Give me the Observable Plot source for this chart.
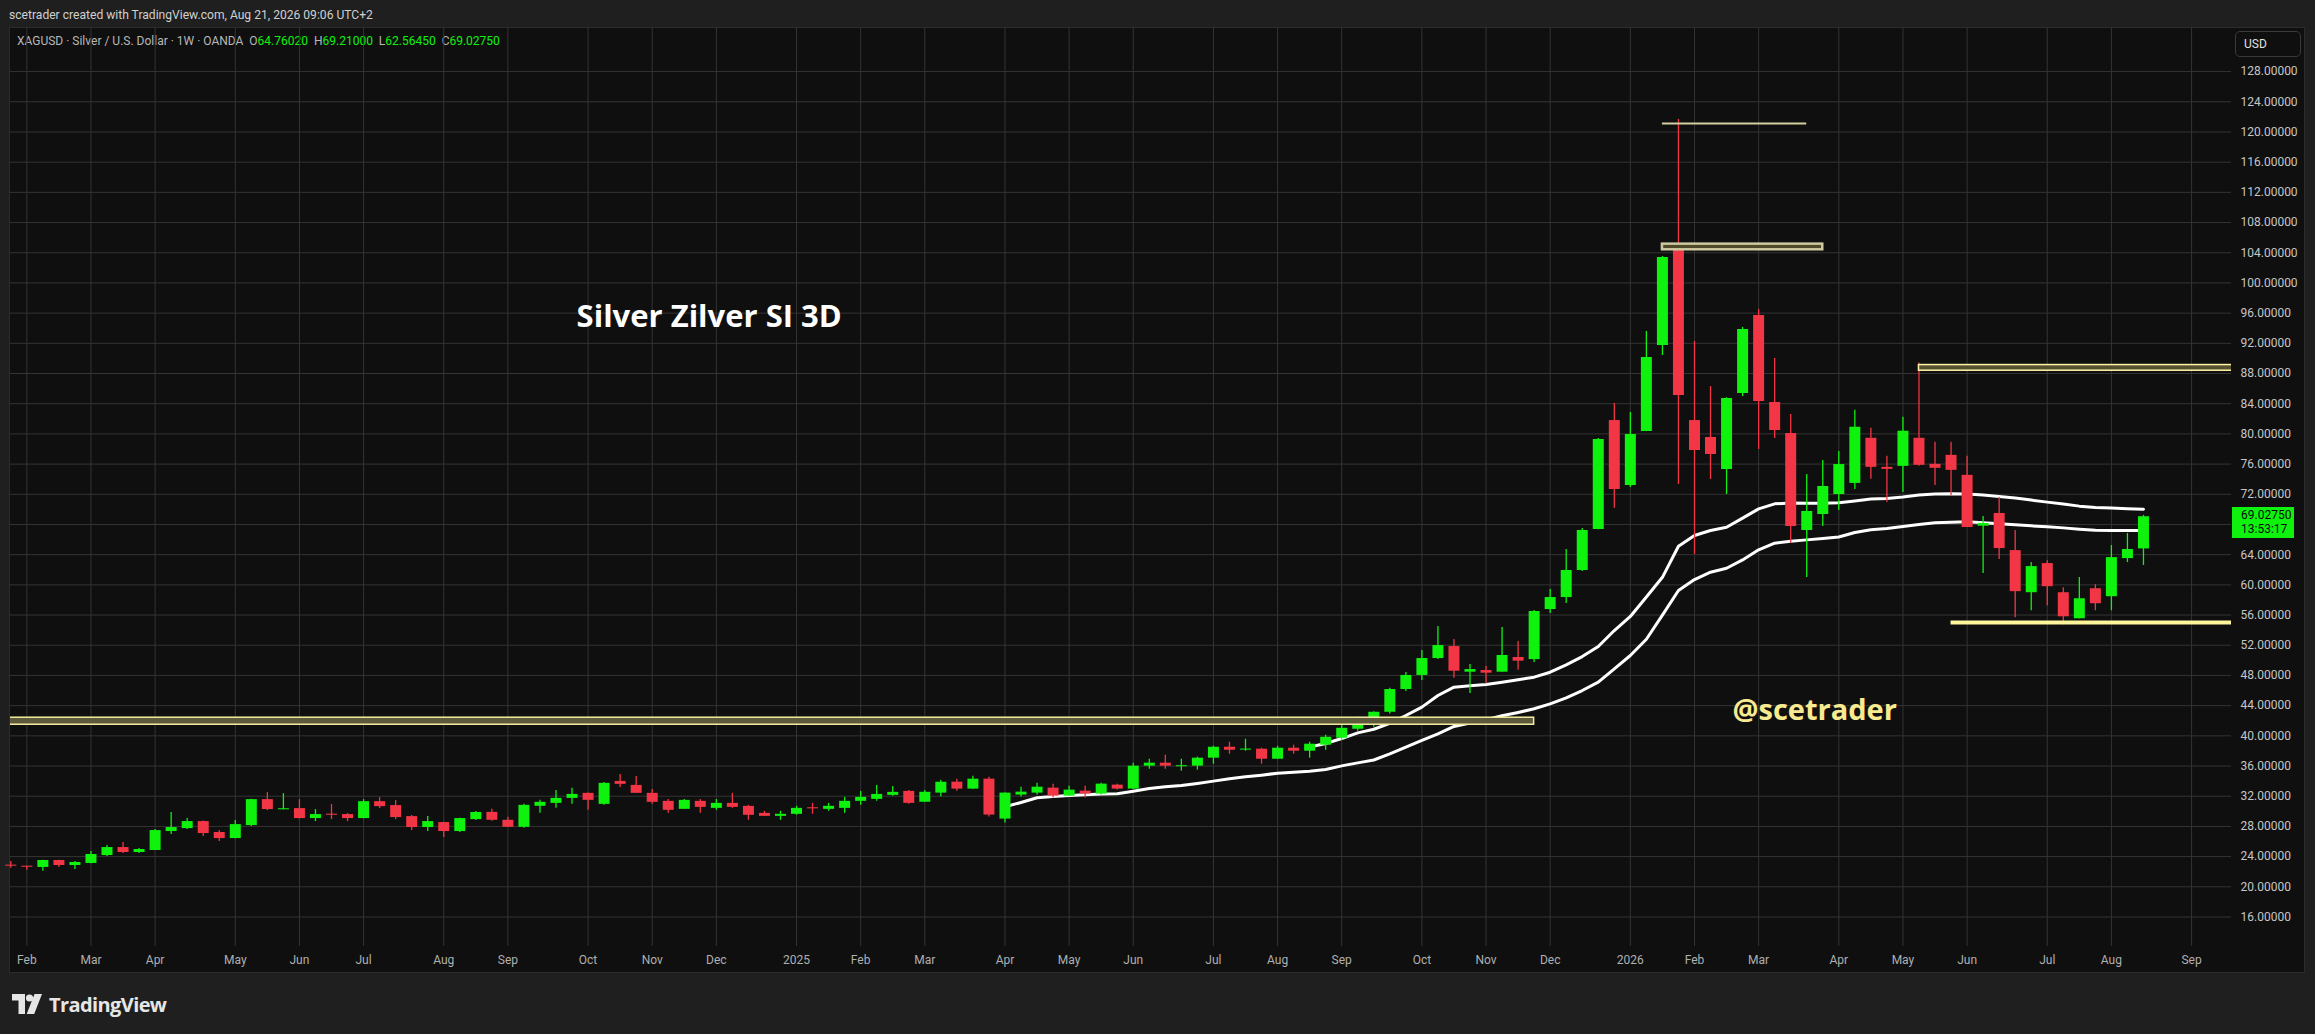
<!DOCTYPE html>
<html>
<head>
<meta charset="utf-8">
<script src="https://cdn.jsdelivr.net/npm/d3@7"></script>
<script src="https://cdn.jsdelivr.net/npm/@observablehq/plot@0.6"></script>
<style>
html,body{margin:0;padding:0;background:#1f1f1f;}
#root{position:relative;width:2315px;height:1034px;overflow:hidden;background:#1f1f1f;font-family:Roboto,"Noto Sans",sans-serif;}
#pane{position:absolute;left:9px;top:27px;width:2296px;height:946px;background:#0f0f0f;border:1px solid #2c2c2c;box-sizing:border-box;}
#chart{position:absolute;left:0;top:0;}
#hdr{position:absolute;left:9px;top:7px;font-size:12.1px;line-height:16px;color:#d0d0d0;white-space:nowrap;}
#legend{position:absolute;left:17px;top:33px;font-size:12px;line-height:17px;color:#b8b8b8;white-space:nowrap;}
#legend .v{color:#0ef20e;}
#usd{position:absolute;left:2235px;top:31px;width:66px;height:26px;box-sizing:border-box;border:1px solid #3a3a3a;border-radius:5px;color:#e0e0e0;font-size:12px;line-height:24px;padding-left:8px;}
#last{position:absolute;left:2232px;width:62px;height:31px;background:#0ef20e;color:#0a0a0a;font-size:12px;line-height:14.5px;padding-left:9px;box-sizing:border-box;padding-top:1px;}
#footer{position:absolute;left:12px;top:991px;height:26px;display:flex;align-items:center;color:#e6e6e6;}
#footer span{font-family:"Open Sans",Roboto,sans-serif;font-weight:700;font-size:20px;letter-spacing:-0.6px;margin-left:7px;}
</style>
</head>
<body>
<div id="root">
  <div id="pane"></div>
  <div id="hdr">scetrader created with TradingView.com, Aug 21, 2026 09:06 UTC+2</div>
  <div id="legend">XAGUSD · Silver / U.S. Dollar · 1W · OANDA&nbsp;&nbsp;O<span class="v">64.76020</span>&nbsp;&nbsp;H<span class="v">69.21000</span>&nbsp;&nbsp;L<span class="v">62.56450</span>&nbsp;&nbsp;C<span class="v">69.02750</span></div>
  <div id="chart"></div>
  <div id="usd">USD</div>
  <div id="last"><div>69.02750</div><div>13:53:17</div></div>
  <div id="footer">
    <svg width="30" height="22" viewBox="0 0 30 22">
      <path d="M0 1h13v20h-6.5v-13.5h-6.5z" fill="#e6e6e6"/>
      <circle cx="17.5" cy="5" r="3.6" fill="#e6e6e6"/>
      <path d="M22.5 1h7.5l-7.8 20h-7.5z" fill="#e6e6e6"/>
    </svg>
    <span>TradingView</span>
  </div>
</div>
<script>
// ---------- DATA (weekly candles, XAGUSD, OANDA) ----------
const weekStart = "2024-01-29";
const opens = [
  22.85,22.70,22.56,23.48,22.82,23.09,24.14,25.20,24.54,24.81,
  27.32,27.71,28.64,27.19,26.39,28.11,31.55,30.23,30.36,29.04,
  29.60,29.57,29.04,31.28,30.76,29.30,27.85,28.51,27.32,28.90,
  29.86,28.81,27.88,30.66,31.05,31.71,32.38,30.92,33.96,33.43,
  32.38,31.32,30.26,31.32,30.39,31.05,30.66,29.73,29.33,29.60,
  30.45,30.26,30.39,31.32,31.58,32.11,32.64,31.20,32.41,33.86,
  32.94,34.26,28.97,32.15,32.41,33.07,32.01,32.67,32.28,33.47,
  32.94,35.98,36.38,35.95,35.98,37.04,38.49,38.15,38.23,36.90,
  38.36,37.96,38.76,39.68,40.87,42.06,43.12,46.14,48.00,50.24,
  51.83,48.43,48.65,48.43,50.38,50.10,56.73,58.32,61.90,67.33,
  81.77,73.16,80.32,91.71,104.70,81.77,79.52,75.28,85.35,95.69,
  84.16,80.05,67.20,69.32,71.97,73.44,79.42,75.57,75.70,79.42,
  75.97,77.16,74.51,67.77,69.46,64.54,58.96,62.82,58.96,55.51,
  59.49,58.43,63.48,64.7602
];
const highs = [
  23.35,22.72,23.52,23.52,23.35,24.67,25.47,25.86,25.07,27.58,
  29.83,29.04,28.70,27.45,28.77,31.60,32.47,32.34,31.55,30.23,
  30.89,29.70,31.55,31.81,31.42,29.43,29.30,28.55,29.07,29.96,
  30.26,29.20,30.92,31.45,32.77,33.04,32.42,33.83,34.89,34.62,
  32.90,31.58,31.58,31.58,31.58,32.38,30.79,30.00,30.00,30.66,
  31.05,31.05,31.85,32.64,33.43,33.30,32.77,32.77,34.13,34.26,
  34.66,34.52,32.45,33.20,33.73,33.60,33.33,33.33,33.73,33.60,
  36.38,36.90,37.43,36.90,37.17,38.62,39.15,39.55,38.36,38.62,
  38.76,39.15,40.08,41.53,42.46,43.20,46.30,48.39,51.30,54.48,
  52.76,49.45,49.18,54.35,52.50,56.60,59.38,64.68,67.46,79.38,
  84.03,82.83,93.57,103.50,121.66,92.24,86.28,84.80,94.10,96.48,
  89.99,82.57,74.62,76.47,77.67,83.14,80.75,77.03,82.21,89.39,
  78.89,78.89,77.03,69.06,71.58,67.20,62.95,63.21,59.63,60.96,
  60.02,65.21,66.80,69.21
];
const lows = [
  22.47,22.20,22.07,22.56,22.29,23.05,24.01,24.41,24.41,24.80,
  26.92,27.58,26.66,26.00,26.35,27.98,30.09,30.20,29.00,28.64,
  28.90,28.64,29.00,30.36,28.90,27.45,27.32,26.52,27.19,28.77,
  28.67,27.85,27.75,29.73,30.39,30.92,30.13,30.79,33.17,32.38,
  30.92,29.73,30.26,29.73,30.13,30.39,28.81,29.33,28.81,29.47,
  29.60,30.00,29.73,30.79,31.32,31.98,30.92,31.19,31.88,32.67,
  32.90,29.24,28.44,31.88,32.15,31.75,32.00,31.75,32.15,32.81,
  32.90,35.58,35.58,35.32,35.45,36.24,37.57,37.96,36.24,36.85,
  37.57,37.04,38.09,39.42,40.60,41.14,42.90,45.87,47.33,50.10,
  47.64,45.61,46.89,48.43,48.70,49.71,56.20,57.53,61.77,67.30,
  70.16,72.90,80.30,90.39,73.30,64.02,73.96,71.97,84.95,77.93,
  79.39,65.47,60.97,67.73,69.85,72.65,73.98,70.92,72.25,75.70,
  73.18,71.85,67.60,61.49,63.35,55.64,56.57,57.24,54.71,55.50,
  56.57,56.57,62.95,62.5645
];
const closes = [
  22.75,22.62,23.48,22.82,23.22,24.28,25.20,24.54,24.94,27.45,
  27.85,28.64,27.05,26.39,28.24,31.55,30.23,30.31,29.04,29.57,
  29.50,29.04,31.28,30.62,29.17,27.85,28.64,27.32,29.04,29.84,
  28.81,27.88,30.79,31.19,31.71,32.24,31.45,33.70,33.57,32.38,
  31.19,30.13,31.45,30.52,31.05,30.52,29.47,29.33,29.60,30.39,
  30.35,30.66,31.32,31.85,32.24,32.51,31.05,32.52,33.85,32.94,
  34.26,29.50,32.41,32.54,33.20,32.01,32.81,32.28,33.60,32.94,
  35.98,36.38,35.98,36.00,37.04,38.49,38.09,38.20,36.90,38.36,
  37.96,38.89,39.81,41.00,42.19,43.12,46.14,48.00,50.24,51.96,
  48.56,48.78,48.30,50.64,49.89,56.47,58.32,61.90,67.20,79.25,
  72.63,79.92,90.12,103.37,85.09,77.80,77.27,84.69,93.83,84.29,
  80.45,67.73,69.72,73.03,75.94,80.88,75.57,75.30,80.35,75.84,
  75.44,75.17,67.60,68.13,64.81,59.10,62.42,59.76,55.77,58.16,
  57.50,63.61,64.68,69.0275
];
// upper white average line (starts at week index 81)
const ma1Start = 81;
const ma1 = [
  38.53,38.98,39.64,40.39,40.87,41.65,42.69,43.80,45.34,46.45,
  46.62,46.80,47.10,47.42,47.77,48.43,49.40,50.50,51.83,53.95,
  55.81,58.40,61.00,65.12,66.54,67.20,67.64,68.84,70.07,70.73,
  70.86,70.82,70.80,70.87,71.10,71.37,71.45,71.63,71.90,72.03,
  72.07,72.03,71.90,71.72,71.50,71.23,70.96,70.70,70.43,70.26,
  70.17,70.08,70.03
];
// lower white average line (starts at week index 62)
const ma2Start = 62;
const ma2 = [
  30.60,31.17,31.79,31.97,32.10,32.19,32.28,32.32,32.67,33.03,
  33.25,33.42,33.69,34.00,34.30,34.57,34.79,35.05,35.19,35.32,
  35.54,36.02,36.42,36.80,37.60,38.50,39.40,40.26,41.24,41.68,
  42.12,42.65,43.10,43.58,44.24,45.03,46.00,47.11,48.87,50.64,
  52.80,56.00,59.25,60.70,61.68,62.20,63.30,64.64,65.52,65.79,
  65.96,66.14,66.35,66.93,67.29,67.47,67.73,68.00,68.22,68.31,
  68.35,68.22,68.09,67.95,67.82,67.69,67.55,67.38,67.24,67.20,
  67.20,67.20
];
// price axis ticks
const priceTicks = [16,20,24,28,32,36,40,44,48,52,56,60,64,68,72,76,80,84,88,92,96,100,104,108,112,116,120,124,128];
// time axis ticks (first weekly bar of each month) and labels
const timeTickDates = [
  "2024-02-05","2024-03-04","2024-04-01","2024-05-06","2024-06-03","2024-07-01","2024-08-05","2024-09-02","2024-10-07","2024-11-04","2024-12-02",
  "2025-01-06","2025-02-03","2025-03-03","2025-04-07","2025-05-05","2025-06-02","2025-07-07","2025-08-04","2025-09-01","2025-10-06","2025-11-03","2025-12-01",
  "2026-01-05","2026-02-02","2026-03-02","2026-04-06","2026-05-04","2026-06-01","2026-07-06","2026-08-03","2026-09-07"
];
const timeTickLabels = [
  "Feb","Mar","Apr","May","Jun","Jul","Aug","Sep","Oct","Nov","Dec",
  "2025","Feb","Mar","Apr","May","Jun","Jul","Aug","Sep","Oct","Nov","Dec",
  "2026","Feb","Mar","Apr","May","Jun","Jul","Aug","Sep"
];
// drawings
const zoneStarts = ["2023-12-01","2026-01-19","2026-05-11"];
const zoneEnds   = ["2025-11-24","2026-03-30","2026-12-31"];
const zoneLows   = [41.47,104.39,88.37];
const zoneHighs  = [42.40,105.14,89.12];
const lineStarts = ["2026-01-19","2026-05-25"];
const lineEnds   = ["2026-03-23","2026-12-31"];
const lineLevels = [121.13,55.0];
const noteTexts  = ["Silver Zilver SI 3D","@scetrader"];
const noteDates  = ["2024-10-02","2026-02-18T14:00"];
const notePrices = [94.1,42.16];

// ---------- BUILD ----------
const WEEK = 7*864e5;
const t0 = Date.parse(weekStart + "T00:00:00Z");
const UP = "#0ef20e", DOWN = "#f23645";
const candles = opens.map((o,i)=>({date:new Date(t0+i*WEEK),open:o,high:highs[i],low:lows[i],close:closes[i]}));
const colorOf = d => d.close >= d.open ? UP : DOWN;
const minSpan = 0.14;
const bodyLo = d => {const lo=Math.min(d.open,d.close),hi=Math.max(d.open,d.close);return hi-lo<minSpan?(lo+hi)/2-minSpan/2:lo;};
const bodyHi = d => {const lo=Math.min(d.open,d.close),hi=Math.max(d.open,d.close);return hi-lo<minSpan?(lo+hi)/2+minSpan/2:hi;};
const ma1Data = ma1.map((v,i)=>({date:new Date(t0+(ma1Start+i)*WEEK),value:v}));
const ma2Data = ma2.map((v,i)=>({date:new Date(t0+(ma2Start+i)*WEEK),value:v}));
const tickDates = timeTickDates.map(s=>new Date(s+"T00:00:00Z"));
const tickLabel = new Map(tickDates.map((d,i)=>[+d,timeTickLabels[i]]));
const pd = s => new Date(s.length>10 ? s+"Z" : s+"T00:00:00Z");
const zones = zoneStarts.map((s,i)=>({x1:pd(s),x2:pd(zoneEnds[i]),y1:zoneLows[i],y2:zoneHighs[i]}));
const lines = lineStarts.map((s,i)=>({x1:pd(s),x2:pd(lineEnds[i]),y:lineLevels[i]}));
const notes = noteTexts.map((t,i)=>({text:t,date:pd(noteDates[i]),price:notePrices[i]}));
const lastClose = closes[closes.length-1];
// the last-price badge hides the axis label it covers, as on the reference
const labelTicks = priceTicks.filter(v => Math.abs(v - lastClose) > 2.2);

const xDomain = [new Date(t0-0.0187*WEEK), new Date(t0+138.49*WEEK)];
const GRID = "#343434";

const chart = Plot.plot({
  width: 2315, height: 1034,
  marginLeft: 10, marginRight: 84, marginTop: 27, marginBottom: 88,
  style: {background:"transparent", fontFamily:"Roboto, 'Noto Sans', sans-serif", fontSize:"12px", color:"#b4b4b4", overflow:"visible"},
  x: {type:"utc", domain:xDomain, axis:null},
  y: {domain:[12.09,133.84], axis:null},
  marks: [
    Plot.ruleX(tickDates, {stroke:GRID, strokeWidth:1}),
    Plot.ruleY(priceTicks, {stroke:GRID, strokeWidth:1}),
    Plot.axisY({anchor:"right", ticks:labelTicks, tickFormat:d=>d.toFixed(5), tickSize:0, tickPadding:9, fontSize:12, fill:"#c6c6c6"}),
    Plot.axisX({anchor:"bottom", ticks:tickDates, tickFormat:d=>tickLabel.get(+d), tickSize:0, tickPadding:9, fontSize:12, fill:"#b0b0b0"}),
    Plot.line(ma2Data, {x:"date", y:"value", stroke:"#ffffff", strokeWidth:3}),
    Plot.line(ma1Data, {x:"date", y:"value", stroke:"#ffffff", strokeWidth:3}),
    Plot.ruleX(candles, {x:"date", y1:"low", y2:"high", stroke:colorOf, strokeWidth:1.3}),
    Plot.ruleX(candles, {x:"date", y1:bodyLo, y2:bodyHi, stroke:colorOf, strokeWidth:11}),
    Plot.rect([zones[0]], {x1:"x1", x2:"x2", y1:"y1", y2:"y2", fill:"#5d5a3b", stroke:"#f3eca0", strokeWidth:1.5, clip:true}),
    Plot.rect([zones[1]], {x1:"x1", x2:"x2", y1:"y1", y2:"y2", fill:"#4f4b2a", stroke:"#cdc8a0", strokeWidth:2.5, clip:true}),
    Plot.rect([zones[2]], {x1:"x1", x2:"x2", y1:"y1", y2:"y2", fill:"#55512f", stroke:"#fff3a6", strokeWidth:1.5, clip:true}),
    Plot.ruleY([lines[0]], {x1:"x1", x2:"x2", y:"y", stroke:"#d4cf9f", strokeWidth:2, clip:true}),
    Plot.ruleY([lines[1]], {x1:"x1", x2:"x2", y:"y", stroke:"#fff59d", strokeWidth:4, clip:true}),
    Plot.text([notes[0]], {x:"date", y:"price", text:"text", textAnchor:"start", lineAnchor:"bottom", fill:"#ffffff", fontSize:31, fontWeight:"bold", fontFamily:"'Open Sans', sans-serif"}),
    Plot.text([notes[1]], {x:"date", y:"price", text:"text", textAnchor:"start", lineAnchor:"bottom", fill:"#f8eb8f", fontSize:29, fontWeight:"bold", fontFamily:"'Open Sans', sans-serif"})
  ]
});
document.getElementById("chart").appendChild(chart);
const yS = chart.scale("y");
document.getElementById("last").style.top = (yS.apply(lastClose) - 9.5) + "px";
</script>
</body>
</html>
